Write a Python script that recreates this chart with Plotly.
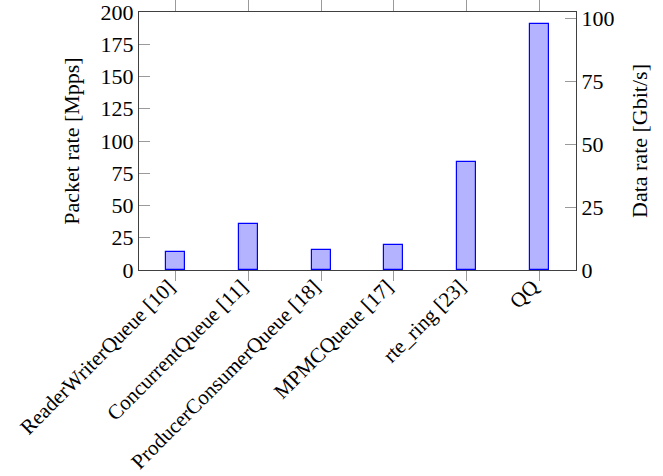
import plotly.graph_objects as go

# Queue implementations and their measured packet rates
queues = [
    "ReaderWriterQueue [10]",
    "ConcurrentQueue [11]",
    "ProducerConsumerQueue [18]",
    "MPMCQueue [17]",
    "rte_ring [23]",
    "QQ",
]
packet_rate_mpps = [14.2, 35.3, 15.5, 19.1, 83.5, 190.8]

# Data rate axis: 64-byte packets -> Gbit/s
frame_bits = 64 * 8
packet_axis_max = 200
data_axis_max = packet_axis_max * frame_bits / 1000.0
data_rate_gbps = [v * frame_bits / 1000.0 for v in packet_rate_mpps]

positions = list(range(len(queues)))
x_range = [-0.505, len(queues) - 0.495]

FONT = "Liberation Serif"
AXIS_COLOR = "#404040"
TICK_COLOR = "#9a9a9a"

fig = go.Figure()
fig.add_trace(go.Bar(
    x=positions, y=packet_rate_mpps, width=0.26,
    marker=dict(color="#b3b3ff", line=dict(color="#0000ff", width=1.2)),
    xaxis="x", yaxis="y", showlegend=False,
))
# invisible trace anchoring the top/right axes
fig.add_trace(go.Scatter(
    x=positions, y=data_rate_gbps, mode="markers",
    marker=dict(opacity=0), xaxis="x2", yaxis="y2",
    showlegend=False, hoverinfo="skip",
))

fig.update_layout(
    width=663, height=476,
    margin=dict(l=139, r=87, t=12, b=206),
    plot_bgcolor="white", paper_bgcolor="white",
    font=dict(family=FONT, size=22, color="black"),
    bargap=0,
    xaxis=dict(
        range=x_range, tickvals=positions, ticktext=queues,
        tickangle=-45, ticks="outside", ticklen=10, tickcolor=TICK_COLOR,
        showline=True, linecolor=AXIS_COLOR, linewidth=1.3,
        showgrid=False, zeroline=False, tickfont=dict(size=21),
        ticklabelstandoff=-15, ticklabelshift=-7,
        ticklabeloverflow="allow", automargin=False,
    ),
    xaxis2=dict(
        range=x_range, tickvals=positions, showticklabels=False,
        overlaying="x", side="top", ticks="outside", ticklen=12,
        tickcolor=TICK_COLOR, showline=True, linecolor=AXIS_COLOR,
        linewidth=1.3, showgrid=False, zeroline=False, automargin=False,
    ),
    yaxis=dict(
        range=[0, packet_axis_max], tickvals=[0, 25, 50, 75, 100, 125, 150, 175, 200],
        ticks="inside", ticklen=11, tickcolor=TICK_COLOR,
        showline=True, linecolor=AXIS_COLOR, linewidth=1.3,
        showgrid=False, zeroline=False, automargin=False,
        ticklabeloverflow="allow",
        title=dict(text="Packet rate [Mpps]", standoff=14, font=dict(size=22)),
    ),
    yaxis2=dict(
        range=[0, data_axis_max], tickvals=[0, 25, 50, 75, 100],
        overlaying="y", side="right", anchor="x2",
        ticks="inside", ticklen=11, tickcolor=TICK_COLOR,
        showline=True, linecolor=AXIS_COLOR, linewidth=1.3,
        showgrid=False, zeroline=False, automargin=False,
        ticklabeloverflow="allow",
        title=dict(text="Data rate [Gbit/s]", standoff=18, font=dict(size=22)),
    ),
)

fig.write_html("out.html")
